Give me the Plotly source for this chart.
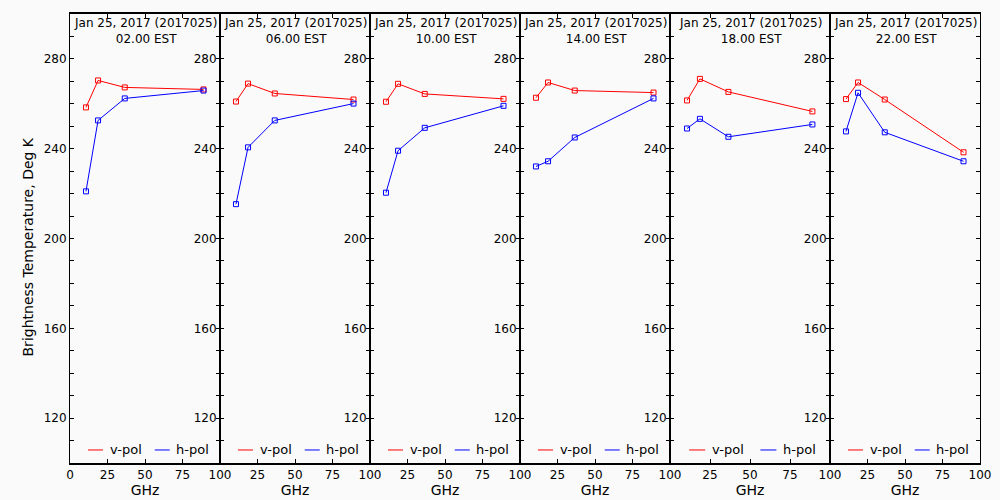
import plotly.graph_objects as go
from plotly.subplots import make_subplots

# ---------------- data ----------------
freqs_ghz = [10.65, 18.7, 36.5, 89.0]
date_label = "Jan 25, 2017 (2017025)"
time_labels = ["02.00 EST", "06.00 EST", "10.00 EST", "14.00 EST", "18.00 EST", "22.00 EST"]
series_names = ["v-pol", "h-pol"]

vpol_0200 = [258.4, 270.4, 267.3, 266.4]
vpol_0600 = [261.0, 269.0, 264.6, 261.9]
vpol_1000 = [260.9, 268.9, 264.4, 262.2]
vpol_1400 = [262.7, 269.5, 265.9, 265.0]
vpol_1800 = [261.5, 271.1, 265.3, 256.6]
vpol_2200 = [262.1, 269.5, 261.9, 238.4]

hpol_0200 = [221.0, 252.6, 262.4, 265.9]
hpol_0600 = [215.3, 240.6, 252.6, 260.1]
hpol_1000 = [220.4, 239.1, 249.3, 259.1]
hpol_1400 = [232.1, 234.4, 245.0, 262.4]
hpol_1800 = [249.0, 253.3, 245.3, 250.8]
hpol_2200 = [247.7, 264.9, 247.3, 234.4]

x_tick_vals = [0, 25, 50, 75, 100]
y_tick_vals = list(range(100, 301, 10))
y_label_vals = [120, 160, 200, 240, 280]

vpol_all = [vpol_0200, vpol_0600, vpol_1000, vpol_1400, vpol_1800, vpol_2200]
hpol_all = [hpol_0200, hpol_0600, hpol_1000, hpol_1400, hpol_1800, hpol_2200]

# ---------------- style ----------------
BG = "#fafafa"
RED = "#ff0000"
BLUE = "#0000ff"
FONT = "DejaVu Sans"
colors = [RED, BLUE]

n = len(time_labels)
fig = make_subplots(rows=1, cols=n, horizontal_spacing=0,
                    column_widths=[150, 150, 150, 150, 160, 150])

for i in range(n):
    col = i + 1
    for vals, color, name in zip([vpol_all[i], hpol_all[i]], colors, series_names):
        fig.add_trace(go.Scatter(
            x=freqs_ghz, y=vals, mode="lines+markers", name=name,
            line=dict(color=color, width=1),
            marker=dict(symbol="square-open", size=5, color=color, line=dict(width=1, color=color)),
            showlegend=False), row=1, col=col)

    xtext = [str(v) if (i == 0 or v != 0) else "" for v in x_tick_vals]
    fig.update_xaxes(range=[0, 100], tickvals=x_tick_vals, ticktext=xtext, automargin=False,
                     ticks="inside", ticklen=4, tickcolor="black", mirror="ticks",
                     showline=True, linecolor="black", linewidth=1.5, showgrid=False, zeroline=False,
                     tickfont=dict(family=FONT, size=12, color="black"),
                     title=dict(text="GHz", font=dict(family=FONT, size=14, color="black"), standoff=2),
                     row=1, col=col)
    ytext = [str(v) if v in y_label_vals else "" for v in y_tick_vals]
    fig.update_yaxes(range=[100, 300], tickvals=y_tick_vals, ticktext=ytext, automargin=False,
                     ticks="inside", ticklen=4, tickcolor="black", mirror="ticks",
                     showline=True, linecolor="black", linewidth=1, showgrid=False, zeroline=False,
                     tickfont=dict(family=FONT, size=12, color="black"),
                     row=1, col=col)

    xr = "x" if i == 0 else f"x{col}"
    yr = "y" if i == 0 else f"y{col}"
    # panel title (two lines)
    fig.add_annotation(text=f"{date_label}<br>{time_labels[i]}", xref=f"{xr} domain", yref=f"{yr} domain",
                       x=0.5, y=1, yanchor="top", xanchor="center", yshift=-1, showarrow=False,
                       borderpad=0, font=dict(family=FONT, size=12, color="black"))
    # legend (line sample + label)
    ly = 0.029
    for (lx0, lx1, tx), color, name in zip([(0.12, 0.22, 0.25), (0.565, 0.665, 0.695)], colors, series_names):
        fig.add_shape(type="line", xref=f"{xr} domain", yref=f"{yr} domain",
                      x0=lx0, x1=lx1, y0=ly, y1=ly, line=dict(color=color, width=1))
        fig.add_annotation(text=name, xref=f"{xr} domain", yref=f"{yr} domain",
                           x=tx, y=ly, xanchor="left", yanchor="middle", showarrow=False,
                           font=dict(family=FONT, size=13, color="black"))

fig.add_annotation(text="Brightness Temperature, Deg K", xref="paper", yref="paper",
                   x=(28 - 70) / 910, y=0.48, textangle=-90, xanchor="center", yanchor="middle",
                   showarrow=False, font=dict(family=FONT, size=14, color="black"))

fig.update_layout(width=1000, height=500, margin=dict(l=70, r=20, t=14, b=37),
                  paper_bgcolor=BG, plot_bgcolor=BG, showlegend=False,
                  font=dict(family=FONT, color="black"))

fig.write_html("out.html", config={"displayModeBar": False},
               post_script="document.body.style.margin='0';document.body.style.overflow='hidden';")
